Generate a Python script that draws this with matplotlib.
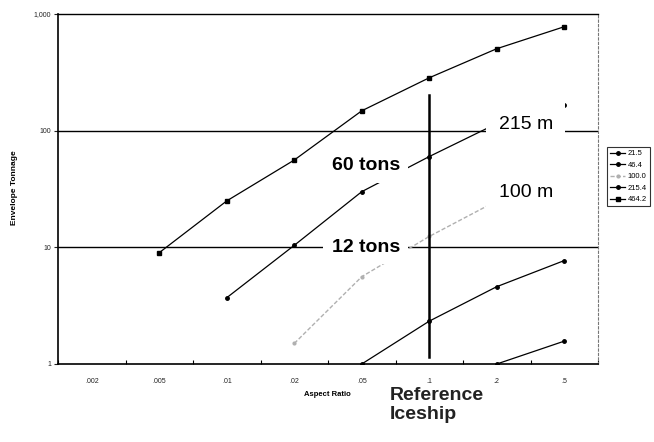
import numpy as np
import matplotlib
matplotlib.use("Agg")
import matplotlib.pyplot as plt

plt.rcParams['font.family'] = ['Liberation Sans', 'DejaVu Sans']

ratios = ['.002', '.005', '.01', '.02', '.05', '.1', '.2', '.5']
# envelope tonnage per ship length (m); None = off the chart
s215 = [None, None, None, None, None, None, 1.0, 1.57]      # 21.5
s464 = [None, None, None, None, 1.0, 2.33, 4.6, 7.7]        # 46.4
s1000 = [None, None, None, 1.5, 5.6, 12.4, 25, None]        # 100.0
s2154 = [None, None, 3.7, 10.4, 30, 60, 115, 165]           # 215.4
s4642 = [None, 9.0, 25, 56, 148, 284, 504, 778]             # 464.2
names = ['21.5', '46.4', '100.0', '215.4', '464.2']

fig = plt.figure(figsize=(6.54, 4.42), dpi=100)
ax = fig.add_axes([58/654, 1-364/442, 540/654, 350/442])

x = np.arange(len(ratios))
def arr(v):
    return np.array([np.nan if a is None else a for a in v], dtype=float)

ax.plot(x, arr(s215), color='black', lw=0.9, marker='o', ms=2.5, label=names[0], zorder=3)
ax.plot(x, arr(s464), color='black', lw=0.9, marker='o', ms=2.5, label=names[1], zorder=3)
ax.plot(x, arr(s1000), color='#b0b0b0', lw=1.0, ls=(0, (3, 1.5)), marker='o', ms=2,
        label=names[2], zorder=3)
ax.plot(x, arr(s2154), color='black', lw=0.9, marker='o', ms=2.5, label=names[3], zorder=3)
ax.plot(x, arr(s4642), color='black', lw=0.9, marker='s', ms=2.5, label=names[4], zorder=3)

ax.set_yscale('log')
ax.set_ylim(1, 1000)
ax.set_xlim(-0.5, 7.5)
ax.set_yticks([1, 10, 100, 1000])
ax.set_yticklabels(['1', '10', '100', '1,000'])
ax.minorticks_off()
ax.tick_params(axis='y', labelsize=5, length=3, width=0.8, pad=2, colors='#222222')

ax.set_xticks(np.arange(-0.5, 8, 1))
ax.set_xticklabels([])
ax.set_xticks(x, minor=True)
ax.set_xticklabels(ratios, minor=True)
ax.tick_params(axis='x', which='major', length=3, width=0.8, direction='in')
ax.tick_params(axis='x', which='minor', length=0, labelsize=5, pad=10, colors='#222222')

for v in [10, 100]:
    ax.axhline(v, color='black', lw=1.0, zorder=2)

for side in ['left', 'bottom']:
    ax.spines[side].set_linewidth(1.2)
ax.spines['top'].set_linewidth(1.0)
ax.spines['right'].set_linestyle((0, (2, 2)))
ax.spines['right'].set_color('#777777')
ax.spines['right'].set_linewidth(0.8)

# reference iceship marker
ax.axvline(5, ymin=0.02, ymax=0.77, color='black', lw=1.8, zorder=4)

box = dict(facecolor='white', edgecolor='none', pad=6)
ax.text(4.06, 50, '60 tons', fontsize=14, fontweight='bold', ha='center', va='center',
        bbox=box, zorder=5)
ax.text(4.06, 10, '12 tons', fontsize=14, fontweight='bold', ha='center', va='center',
        bbox=box, zorder=5)
ax.text(6.43, 114, '215 m', fontsize=14, ha='center', va='center', bbox=dict(
        facecolor='white', edgecolor='none', pad=9), zorder=5)
ax.text(6.43, 29.6, '100 m', fontsize=14, ha='center', va='center', bbox=dict(
        facecolor='white', edgecolor='none', pad=9), zorder=5)

fig.text(327/654, 1-395/442, 'Aspect Ratio', fontsize=5.5, fontweight='bold',
         ha='center', va='center')
fig.text(14/654, 1-188/442, 'Envelope Tonnage', fontsize=6, fontweight='bold',
         rotation=90, ha='center', va='center')
fig.text(390/654, 1-405/442, 'Reference\nIceship', fontsize=14, fontweight='bold',
         ha='left', va='center', linespacing=1.15, color='#222222')

leg = ax.legend(loc='upper left', bbox_to_anchor=(603/654, 1-143/442),
                bbox_transform=fig.transFigure, fontsize=5.5, frameon=True,
                fancybox=False, edgecolor='black', borderpad=0.4, handlelength=2.0,
                labelspacing=0.55, handletextpad=0.3)
leg.get_frame().set_linewidth(0.8)

fig.savefig('out.png', dpi=100)
